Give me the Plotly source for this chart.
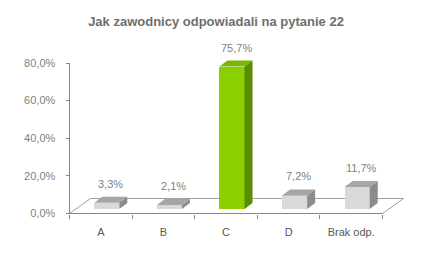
import plotly.graph_objects as go

categories = ["A", "B", "C", "D", "Brak odp."]
values = [3.3, 2.1, 75.7, 7.2, 11.7]
highlight = "C"
y_ticks = [0, 20, 40, 60, 80]
title_text = "Jak zawodnicy odpowiadali na pytanie 22"

# colours
grey_front, grey_top, grey_side = "#d9d9d9", "#a6a6a6", "#8c8c8c"
green_front, green_top, green_side = "#8ccf00", "#7ab800", "#5a8c00"

# pixel scales of the axes
PXX = 62.6      # px per category
PXY = 1.88125   # px per percent
XMIN, XMAX = -0.5 - 9.5 / PXX, -0.5 + (410 - 69.5) / PXX
YMIN, YMAX = -4.5 / PXY, 80 + 8 / PXY

# 3D-look geometry (data units)
FDX, FDY = 21 / PXX, 15 / PXY      # floor depth
SX, SY = 6 / PXX, 4.5 / PXY        # bar front offset
BDX, BDY = 8 / PXX, 6 / PXY        # bar depth
BW = 0.4


def pct(v):
    return f"{v:.1f}%".replace(".", ",")


xs = list(range(len(categories)))
fronts = [green_front if c == highlight else grey_front for c in categories]
tops = [green_top if c == highlight else grey_top for c in categories]
sides = [green_side if c == highlight else grey_side for c in categories]

fig = go.Figure()
fig.add_trace(go.Bar(
    x=[x + SX for x in xs], y=values, base=[SY] * len(values), width=BW,
    marker=dict(color=fronts, line=dict(width=0)), hoverinfo="skip",
))

shapes = []
# floor
x0, x1 = -0.5, len(categories) - 0.5
shapes.append(dict(type="path", layer="below",
                   path=f"M{x0},0 L{x1},0 L{x1+FDX},{FDY} L{x0+FDX},{FDY} Z",
                   line=dict(color="#a0a0a0", width=1), fillcolor="white"))
# front edge (x axis line) and y axis line
shapes.append(dict(type="line", x0=x0, x1=x1, y0=0, y1=0,
                   line=dict(color="#868686", width=1)))
shapes.append(dict(type="line", x0=x0, x1=x0, y0=0, y1=80,
                   line=dict(color="#868686", width=1)))

for x, v, t, s in zip(xs, values, tops, sides):
    l, r = x + SX - BW / 2, x + SX + BW / 2
    b, h = SY, SY + v
    shapes.append(dict(type="path", layer="above",
                       path=f"M{l},{h} L{r},{h} L{r+BDX},{h+BDY} L{l+BDX},{h+BDY} Z",
                       line=dict(width=0), fillcolor=t))
    shapes.append(dict(type="path", layer="above",
                       path=f"M{r},{b} L{r},{h} L{r+BDX},{h+BDY} L{r+BDX},{b+BDY} Z",
                       line=dict(width=0), fillcolor=s))

annotations = []
for x, v in zip(xs, values):
    annotations.append(dict(
        x=x + SX + BDX / 2, y=SY + v + BDY, xref="x", yref="y",
        text=pct(v), showarrow=False,
        yanchor="bottom", yshift=5,
        font=dict(family="Liberation Sans, Arial", size=11, color="#7f7f7f"),
    ))

fig.update_layout(
    width=432, height=256,
    margin=dict(l=60, r=22, t=55, b=38),
    paper_bgcolor="white", plot_bgcolor="white",
    showlegend=False,
    title=dict(text=f"<b>{title_text}</b>", x=0.5, xref="container",
               y=1 - 21 / 256, yref="container", yanchor="middle", xanchor="center",
               font=dict(family="Liberation Sans, Arial", size=13, color="#6e6e6e")),
    xaxis=dict(range=[XMIN, XMAX], showgrid=False, zeroline=False, showline=False,
               tickvals=xs, ticktext=categories, ticks="",
               anchor="free", position=(0 - YMIN) / (YMAX - YMIN),
               ticklabelstandoff=10,
               tickfont=dict(family="Liberation Sans, Arial", size=11, color="#595959"),
               minor=dict(tickvals=[i - 0.5 for i in range(len(categories) + 1)],
                          ticks="outside", ticklen=4, tickcolor="#868686", showgrid=False)),
    yaxis=dict(range=[YMIN, YMAX], showgrid=False, zeroline=False, showline=False,
               tickvals=y_ticks, ticktext=[pct(t) for t in y_ticks],
               ticks="outside", ticklen=4, tickcolor="#868686",
               anchor="free", position=(-0.5 - XMIN) / (XMAX - XMIN),
               ticklabelstandoff=8,
               tickfont=dict(family="Liberation Sans, Arial", size=11, color="#7f7f7f")),
    shapes=shapes, annotations=annotations, bargap=0,
)

fig.write_html("out.html")
